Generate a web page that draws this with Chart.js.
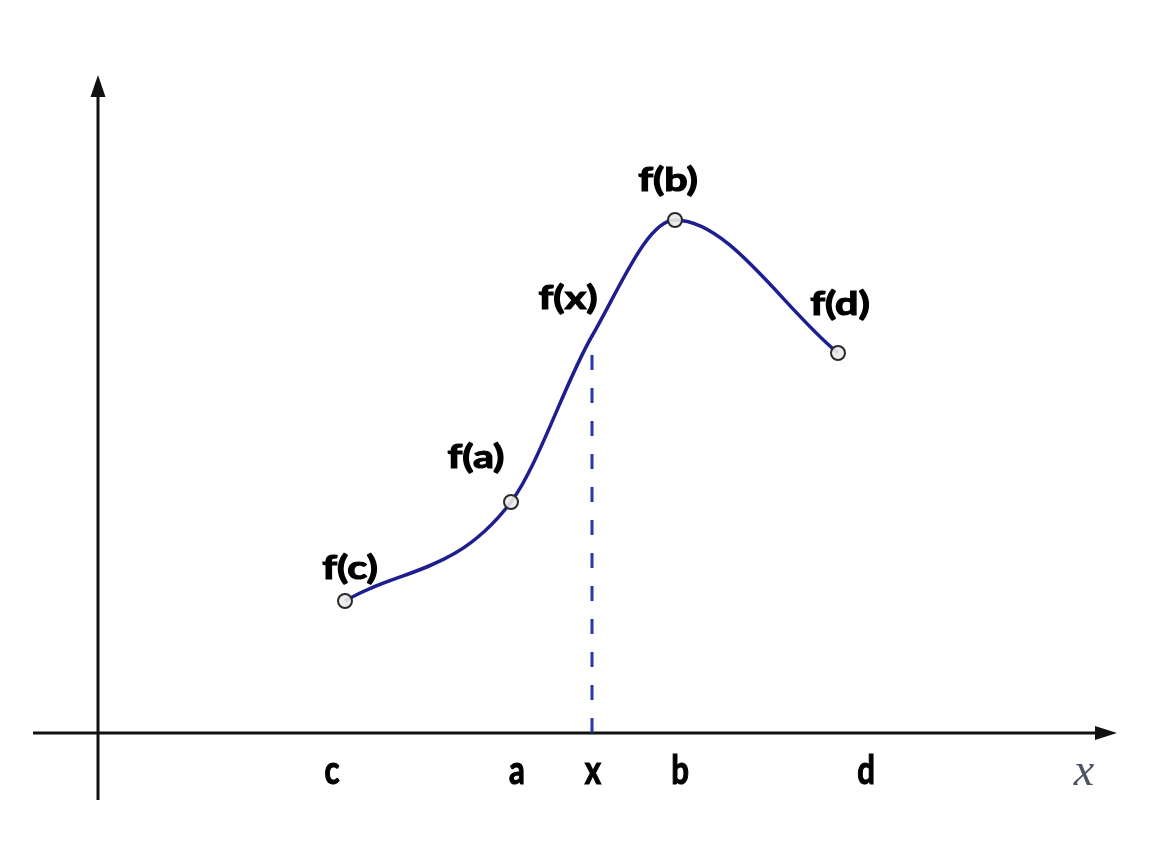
<!DOCTYPE html>
<html>
<head>
<meta charset="utf-8">
<script src="https://cdn.jsdelivr.net/npm/chart.js@4"></script>
<style>
  body { margin: 0; background: #fff; }
  .wrap { width: 1164px; height: 854px; }
</style>
</head>
<body>
<div class="wrap"><canvas id="myChart"></canvas></div>
<script>
// points on the curve (math units, origin at the axes crossing)
var pointNames = ["c", "a", "x", "b", "d"];
var pointLabels = ["f(c)", "f(a)", "f(x)", "f(b)", "f(d)"];
var xValues = [2.47, 4.13, 4.94, 5.77, 7.40];
var yValues = [1.32, 2.31, 3.97, 5.13, 3.80];
var showMarker = [true, true, false, true, true];

// labels under the x axis
var tickLabels = ["c", "a", "x", "b", "d"];
var tickValues = [2.34, 4.19, 4.95, 5.82, 7.68];

var curve = xValues.map(function (x, i) { return { x: x, y: yValues[i] }; });
var xi = pointNames.indexOf("x");
var dashed = [{ x: xValues[xi], y: 0 }, { x: xValues[xi], y: yValues[xi] }];

// draw bold text squeezed or stretched sideways
function drawText(ctx, t, x, y, sx) {
  ctx.save();
  ctx.translate(x, y);
  ctx.scale(sx, 1);
  ctx.lineWidth = 1.2;
  ctx.strokeStyle = '#000';
  ctx.strokeText(t, 0, 0);
  ctx.fillText(t, 0, 0);
  ctx.restore();
}

var sketchPlugin = {
  id: 'sketch',
  beforeDatasetsDraw: function (chart) {
    var ctx = chart.ctx;
    var sx = chart.scales.x, sy = chart.scales.y;
    var ox = sx.getPixelForValue(0), oy = sy.getPixelForValue(0);
    ctx.save();
    ctx.strokeStyle = '#111';
    ctx.fillStyle = '#111';
    ctx.lineWidth = 3;
    // x axis
    var xl = sx.getPixelForValue(-0.65), xr = sx.getPixelForValue(10.19);
    ctx.beginPath();
    ctx.moveTo(xl, oy);
    ctx.lineTo(xr - 18, oy);
    ctx.stroke();
    ctx.beginPath();
    ctx.moveTo(xr, oy);
    ctx.lineTo(xr - 22, oy - 7);
    ctx.lineTo(xr - 22, oy + 7);
    ctx.closePath();
    ctx.fill();
    // y axis
    var yb = sy.getPixelForValue(-0.67), yt = sy.getPixelForValue(6.58);
    ctx.beginPath();
    ctx.moveTo(ox, yb);
    ctx.lineTo(ox, yt + 18);
    ctx.stroke();
    ctx.beginPath();
    ctx.moveTo(ox, yt);
    ctx.lineTo(ox - 7.5, yt + 22);
    ctx.lineTo(ox + 7.5, yt + 22);
    ctx.closePath();
    ctx.fill();
    ctx.restore();
  },
  afterDatasetsDraw: function (chart) {
    var ctx = chart.ctx;
    var sx = chart.scales.x, sy = chart.scales.y;
    ctx.save();
    ctx.fillStyle = '#000';
    ctx.textAlign = 'center';
    ctx.textBaseline = 'alphabetic';
    // f(..) labels above the points
    ctx.font = 'bold 33px Lato';
    var offs = [[5, -22], [-35, -34], [-24, -27], [-7, -29], [2, -38]];
    pointLabels.forEach(function (t, i) {
      var px = sx.getPixelForValue(xValues[i]) + offs[i][0];
      var py = sy.getPixelForValue(yValues[i]) + offs[i][1];
      drawText(ctx, t, px, py, 1.25);
    });
    // letters under the x axis
    ctx.font = 'bold 40px Lato';
    tickLabels.forEach(function (t, i) {
      var px = sx.getPixelForValue(tickValues[i]);
      var py = sy.getPixelForValue(0) + 51;
      drawText(ctx, t, px, py, 0.78);
    });
    // axis name
    ctx.font = 'italic 46px "Liberation Serif"';
    ctx.fillStyle = '#4a5563';
    ctx.fillText('x', sx.getPixelForValue(9.86), sy.getPixelForValue(0) + 52);
    ctx.restore();
  }
};

var ctx = document.getElementById('myChart').getContext('2d');
var myChart = new Chart(ctx, {
  type: 'scatter',
  data: {
    datasets: [{
      data: curve,
      showLine: true,
      cubicInterpolationMode: 'monotone',
      borderColor: 'rgb(30, 30, 145)',
      borderWidth: 3.5,
      pointRadius: showMarker.map(function (s) { return s ? 7 : 0; }),
      pointBackgroundColor: 'rgba(235, 235, 235, 0.9)',
      pointBorderColor: '#2a2a2a',
      pointBorderWidth: 2,
      order: 1
    }, {
      data: dashed,
      showLine: true,
      borderColor: 'rgb(35, 55, 175)',
      borderWidth: 3,
      borderDash: [15, 18],
      pointRadius: 0,
      order: 2
    }]
  },
  options: {
    responsive: true,
    maintainAspectRatio: false,
    animation: false,
    layout: { padding: 0, autoPadding: false },
    plugins: { legend: { display: false }, tooltip: { enabled: false } },
    scales: {
      x: { type: 'linear', display: false, min: -0.98, max: 10.66 },
      y: { type: 'linear', display: false, min: -1.21, max: 7.33 }
    }
  },
  plugins: [sketchPlugin]
});
</script>
</body>
</html>
